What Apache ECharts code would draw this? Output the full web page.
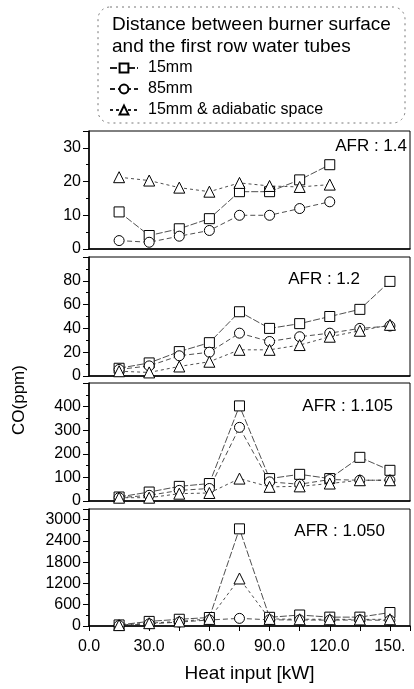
<!DOCTYPE html>
<html>
<head>
<meta charset="utf-8">
<script src="https://cdn.jsdelivr.net/npm/echarts@6/dist/echarts.min.js"></script>
<style>
html, body { margin: 0; padding: 0; background: #fff; }
#chart { width: 414px; height: 689px; }
</style>
</head>
<body>
<div id="chart"></div>
<script>
// heat input (kW)
const heatInput = [15, 30, 45, 60, 75, 90, 105, 120, 135, 150];
const xTickLabels = ["0.0", "30.0", "60.0", "90.0", "120.0", "150."];
const seriesNames = ["15mm", "85mm", "15mm & adiabatic space"];
const afrLabels = ["AFR : 1.4", "AFR : 1.2", "AFR : 1.105", "AFR : 1.050"];

// CO (ppm), AFR 1.4 (only up to 120 kW)
const afr14_15mm = [11, 4, 6, 9, 17, 17, 20.5, 25];
const afr14_85mm = [2.5, 2, 3.8, 5.5, 10, 10, 12, 14];
const afr14_adia = [21.3, 20.3, 18.2, 17, 19.6, 18.7, 18.4, 19.1];
// AFR 1.2
const afr12_15mm = [6.5, 11, 20.5, 28, 54, 40, 44, 50, 56, 79.5];
const afr12_85mm = [5.5, 8.5, 17, 20, 36, 29, 33, 36, 40, 42];
const afr12_adia = [4, 3, 8, 12, 22, 22, 26, 33, 38, 43];
// AFR 1.105
const afr1105_15mm = [17, 38, 62, 74, 403, 95, 113, 95, 185, 130];
const afr1105_85mm = [14, 24, 45, 53, 312, 81, 71, 91, 88, 88];
const afr1105_adia = [14, 14, 31, 34, 95, 60, 62, 74, 88, 88];
// AFR 1.050
const afr105_15mm = [30, 130, 190, 240, 2740, 245, 310, 250, 250, 380];
const afr105_85mm = [15, 60, 110, 170, 215, 175, 170, 165, 170, 160];
const afr105_adia = [25, 80, 130, 200, 1340, 200, 190, 190, 185, 190];

const yMax = [35, 100, 500, 3300];
const yInterval = [10, 20, 100, 600];

const panels = [
  [afr14_15mm, afr14_85mm, afr14_adia],
  [afr12_15mm, afr12_85mm, afr12_adia],
  [afr1105_15mm, afr1105_85mm, afr1105_adia],
  [afr105_15mm, afr105_85mm, afr105_adia],
];

const FONT = "Liberation Sans, Arial, sans-serif";
const gridPos = [
  { top: 131, height: 118 },
  { top: 257, height: 119 },
  { top: 383, height: 118 },
  { top: 509, height: 117 },
];
const afrPos = [
  { right: 7, top: 138 },
  { right: 54, top: 271 },
  { right: 21, top: 398 },
  { right: 29, top: 523 },
];

const symbols = ["rect", "circle", "triangle"];
const dashes = [[7, 2], [5, 3], [3, 3]];

let chart = echarts.init(document.getElementById("chart"));

let grid = gridPos.map((g) => ({
  left: 89,
  width: 321,
  top: g.top,
  height: g.height,
  show: true,
  borderColor: "#000",
  borderWidth: 1,
  backgroundColor: "transparent",
}));

let xAxis = gridPos.map((g, i) => {
  const last = i === 3;
  return {
    type: "value",
    gridIndex: i,
    min: 0,
    max: 160,
    interval: 30,
    axisLine: { show: true, lineStyle: { color: "#000", width: 1.5 } },
    axisTick: { show: last, length: 5, lineStyle: { color: "#000" } },
    minorTick: { show: last, splitNumber: 2, length: 5, lineStyle: { color: "#000" } },
    splitLine: { show: false },
    axisLabel: {
      show: last,
      margin: 13,
      showMaxLabel: false,
      color: "#000",
      fontSize: 16,
      fontFamily: FONT,
      formatter: (v) => xTickLabels[Math.round(v / 30)] || "",
    },
    name: last ? "Heat input [kW]" : "",
    nameLocation: "middle",
    nameGap: 38,
    nameTextStyle: { color: "#000", fontSize: 19, fontFamily: FONT },
  };
});

let yAxis = gridPos.map((g, i) => ({
  type: "value",
  gridIndex: i,
  min: 0,
  max: yMax[i],
  interval: yInterval[i],
  axisLine: { show: true, lineStyle: { color: "#000", width: 1.5 } },
  axisTick: { show: true, length: 6, lineStyle: { color: "#000" } },
  minorTick: { show: true, splitNumber: 2, length: 3, lineStyle: { color: "#000" } },
  splitLine: { show: false },
  axisLabel: {
    margin: 8,
    showMaxLabel: false,
    color: "#000",
    fontSize: 16,
    fontFamily: FONT,
    formatter: (v) => String(v),
  },
}));

let series = [];
panels.forEach((sets, p) => {
  sets.forEach((vals, k) => {
    series.push({
      name: seriesNames[k],
      type: "line",
      xAxisIndex: p,
      yAxisIndex: p,
      data: vals.map((v, j) => [heatInput[j], v]),
      symbol: symbols[k],
      symbolSize: k === 2 ? 11 : 10,
      lineStyle: { color: "#222", width: 0.8, type: dashes[k] },
      itemStyle: { color: "#fff", borderColor: "#000", borderWidth: 1 },
      emphasis: { disabled: true },
    });
  });
});

let title = [
  {
    text: "Distance between burner surface\nand the first row water tubes",
    left: 112,
    top: 14,
    padding: 0,
    textStyle: { fontSize: 19, fontWeight: "normal", color: "#000", fontFamily: FONT, lineHeight: 22 },
  },
].concat(
  afrLabels.map((t, i) => ({
    text: t,
    right: afrPos[i].right,
    top: afrPos[i].top,
    padding: 0,
    textStyle: { fontSize: 17, fontWeight: "normal", color: "#000", fontFamily: FONT },
  }))
);

let option = {
  animation: false,
  title: title,
  legend: {
    data: seriesNames,
    orient: "vertical",
    left: 109,
    top: 60,
    padding: 0,
    itemWidth: 28,
    itemHeight: 11,
    itemGap: 5,
    selectedMode: false,
    textStyle: { fontSize: 16, color: "#000", fontFamily: FONT, padding: [0, 0, 0, 5] },
  },
  grid: grid,
  xAxis: xAxis,
  yAxis: yAxis,
  series: series,
  graphic: [
    {
      type: "rect",
      shape: { x: 98, y: 7, width: 307, height: 116, r: 12 },
      style: { fill: null, stroke: "#777", lineWidth: 1, lineDash: [2, 4] },
      silent: true,
    },
    {
      type: "text",
      x: 19,
      y: 400,
      rotation: Math.PI / 2,
      style: {
        text: "CO(ppm)",
        fill: "#000",
        font: "17px " + FONT,
        textAlign: "center",
        textVerticalAlign: "middle",
      },
      silent: true,
    },
  ],
};

chart.setOption(option);
</script>
</body>
</html>
